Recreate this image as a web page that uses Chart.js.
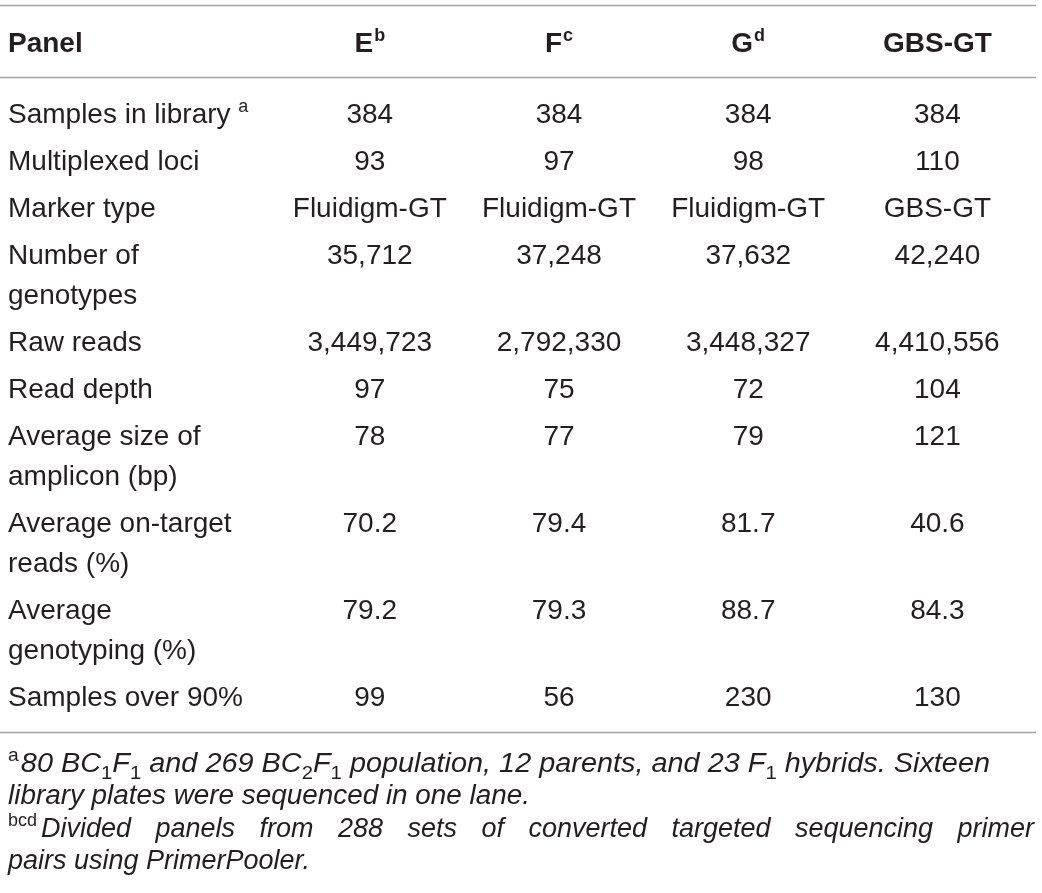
<!DOCTYPE html>
<html>
<head>
<meta charset="utf-8">
<script src="https://cdn.jsdelivr.net/npm/chart.js@4.4.1/dist/chart.umd.min.js"></script>
<style>
  html, body { margin: 0; padding: 0; background: #ffffff; }
  #wrap { width: 1042px; height: 893px; position: relative; }
</style>
</head>
<body>
<div id="wrap"><canvas id="c"></canvas></div>
<script>
// ---------- data ----------
const columns = ['Panel', 'E', 'F', 'G', 'GBS-GT'];
const columnSup = ['', 'b', 'c', 'd', ''];
const rowLabels = [
  ['Samples in library'],
  ['Multiplexed loci'],
  ['Marker type'],
  ['Number of', 'genotypes'],
  ['Raw reads'],
  ['Read depth'],
  ['Average size of', 'amplicon (bp)'],
  ['Average on-target', 'reads (%)'],
  ['Average', 'genotyping (%)'],
  ['Samples over 90%']
];
const rowLabelSup = ['a', '', '', '', '', '', '', '', '', ''];
const panelE   = ['384', '93',  'Fluidigm-GT', '35,712', '3,449,723', '97',  '78',  '70.2', '79.2', '99'];
const panelF   = ['384', '97',  'Fluidigm-GT', '37,248', '2,792,330', '75',  '77',  '79.4', '79.3', '56'];
const panelG   = ['384', '98',  'Fluidigm-GT', '37,632', '3,448,327', '72',  '79',  '81.7', '88.7', '230'];
const panelGBS = ['384', '110', 'GBS-GT',      '42,240', '4,410,556', '104', '121', '40.6', '84.3', '130'];
const valueColumns = [panelE, panelF, panelG, panelGBS];

const footnoteA1 = [
  { t: 'a', k: 'sup' }, { t: '80 BC' }, { t: '1', k: 'sub' }, { t: 'F' }, { t: '1', k: 'sub' },
  { t: ' and 269 BC' }, { t: '2', k: 'sub' }, { t: 'F' }, { t: '1', k: 'sub' },
  { t: ' population, 12 parents, and 23 F' }, { t: '1', k: 'sub' }, { t: ' hybrids. Sixteen' }
];
const footnoteA2 = [{ t: 'library plates were sequenced in one lane.' }];
const footnoteBSup = 'bcd';
const footnoteB1 = 'Divided panels from 288 sets of converted targeted sequencing primer';
const footnoteB2 = [{ t: 'pairs using PrimerPooler.' }];

// ---------- layout / style ----------
const TEXT = '#231f20';
const RULE = '#a3a3a3';
const FAMILY = '"Liberation Sans", Arial, Helvetica, sans-serif';
const BODY_PX = 28;
const SUP_PX = 18;
const SUB_PX = 19;
const FOOT_PX = 27;
const HEADER_Y = 42;
const RULE_YS = [5, 77, 732];
const FIRST_ROW_Y = 113;
const ROW_PITCH = 47;
const LINE_GAP = 40;
const LEFT_X = 8;
const RIGHT_X = 1036;
const FOOT_YS = [772, 804, 837, 869];
const FOOT_ENDS = [990, 530, null, 310];

function drawRich(ctx, segs, x, y, dryRun) {
  let cx = x;
  segs.forEach((s) => {
    if (s.k === 'sup') {
      ctx.font = `${SUP_PX}px ${FAMILY}`;
      if (!dryRun) ctx.fillText(s.t, cx, y - 11);
      cx += ctx.measureText(s.t).width + 2;
    } else if (s.k === 'sub') {
      ctx.font = `${SUB_PX}px ${FAMILY}`;
      if (!dryRun) ctx.fillText(s.t, cx, y + 7);
      cx += ctx.measureText(s.t).width;
    } else {
      ctx.font = `italic ${FOOT_PX}px ${FAMILY}`;
      if (!dryRun) ctx.fillText(s.t, cx, y);
      cx += ctx.measureText(s.t).width;
    }
  });
  return cx;
}

function drawFitted(ctx, segs, x, y, endX) {
  const natural = drawRich(ctx, segs, x, y, true) - x;
  const sx = endX ? (endX - x) / natural : 1;
  ctx.save();
  ctx.translate(x, 0);
  ctx.scale(sx, 1);
  drawRich(ctx, segs, 0, y, false);
  ctx.restore();
}

function rowCenters() {
  const ys = [];
  let y = FIRST_ROW_Y;
  rowLabels.forEach((lines) => {
    ys.push(y);
    y += ROW_PITCH + LINE_GAP * (lines.length - 1);
  });
  return ys;
}

const tablePlugin = {
  id: 'tablePlugin',
  afterDraw(chart) {
    const ctx = chart.ctx;
    const xs = chart.scales.x;
    const ys = chart.scales.y;
    ctx.save();
    ctx.fillStyle = TEXT;
    ctx.textBaseline = 'alphabetic';

    // rules
    ctx.strokeStyle = RULE;
    ctx.lineWidth = 1.6;
    RULE_YS.forEach((v) => {
      const py = Math.round(ys.getPixelForValue(v)) + 0.5;
      ctx.beginPath();
      ctx.moveTo(0, py);
      ctx.lineTo(RIGHT_X, py);
      ctx.stroke();
    });

    // header
    const hy = ys.getPixelForValue(HEADER_Y) + 10;
    columns.forEach((name, i) => {
      ctx.font = `bold ${BODY_PX}px ${FAMILY}`;
      const w = ctx.measureText(name).width;
      ctx.font = `bold ${SUP_PX}px ${FAMILY}`;
      const sw = columnSup[i] ? ctx.measureText(columnSup[i]).width + 1 : 0;
      const x0 = i === 0 ? LEFT_X : xs.getPixelForValue(i) - (w + sw) / 2;
      ctx.font = `bold ${BODY_PX}px ${FAMILY}`;
      ctx.textAlign = 'left';
      ctx.fillText(name, x0, hy);
      if (columnSup[i]) {
        ctx.font = `bold ${SUP_PX}px ${FAMILY}`;
        ctx.fillText(columnSup[i], x0 + w + 1, hy - 11);
      }
    });

    // body
    const centers = rowCenters();
    rowLabels.forEach((lines, r) => {
      const cy = centers[r];
      lines.forEach((ln, li) => {
        const py = ys.getPixelForValue(cy + li * LINE_GAP) + 10;
        ctx.font = `${BODY_PX}px ${FAMILY}`;
        ctx.textAlign = 'left';
        ctx.fillText(ln, LEFT_X, py);
        if (li === 0 && rowLabelSup[r]) {
          const w = ctx.measureText(ln + ' ').width;
          ctx.font = `${SUP_PX}px ${FAMILY}`;
          ctx.fillText(rowLabelSup[r], LEFT_X + w, py - 11);
        }
      });
      valueColumns.forEach((col, c) => {
        const px = xs.getPixelForValue(c + 1);
        const py = ys.getPixelForValue(cy) + 10;
        ctx.font = `${BODY_PX}px ${FAMILY}`;
        ctx.textAlign = 'center';
        ctx.fillText(col[r], px, py);
      });
    });

    // footnotes
    ctx.textAlign = 'left';
    drawFitted(ctx, footnoteA1, LEFT_X, ys.getPixelForValue(FOOT_YS[0]), FOOT_ENDS[0]);
    drawFitted(ctx, footnoteA2, LEFT_X, ys.getPixelForValue(FOOT_YS[1]), FOOT_ENDS[1]);
    // justified line
    const by = ys.getPixelForValue(FOOT_YS[2]);
    ctx.font = `${SUP_PX}px ${FAMILY}`;
    ctx.fillText(footnoteBSup, LEFT_X, by - 11);
    const start = LEFT_X + ctx.measureText(footnoteBSup).width + 4;
    ctx.font = `italic ${FOOT_PX}px ${FAMILY}`;
    const words = footnoteB1.split(' ');
    const widths = words.map((wd) => ctx.measureText(wd).width);
    const total = widths.reduce((a, b) => a + b, 0);
    const gap = (RIGHT_X - 2 - start - total) / (words.length - 1);
    let wx = start;
    words.forEach((wd, i) => {
      ctx.fillText(wd, wx, by);
      wx += widths[i] + gap;
    });
    drawFitted(ctx, footnoteB2, LEFT_X, ys.getPixelForValue(FOOT_YS[3]), FOOT_ENDS[3]);

    ctx.restore();
  }
};

new Chart(document.getElementById('c'), {
  type: 'scatter',
  data: { datasets: [] },
  options: {
    responsive: true,
    maintainAspectRatio: false,
    animation: false,
    layout: { padding: { left: 86, right: 10, top: 0, bottom: 0 } },
    plugins: { legend: { display: false }, tooltip: { enabled: false } },
    scales: {
      x: { type: 'linear', min: -0.5, max: 4.5, display: false },
      y: { type: 'linear', min: 0, max: 893, reverse: true, display: false }
    }
  },
  plugins: [tablePlugin]
});
</script>
</body>
</html>
